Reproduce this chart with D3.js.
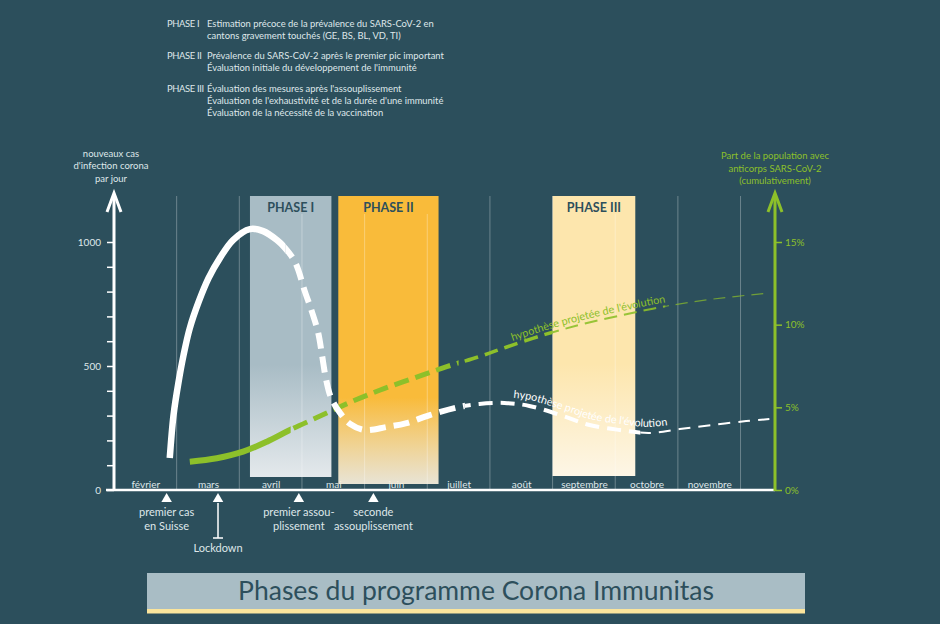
<!DOCTYPE html>
<html lang="fr">
<head>
<meta charset="utf-8">
<script src="https://cdn.jsdelivr.net/npm/d3@7"></script>
<style>
  html, body { margin: 0; padding: 0; background: #2c4f5c; }
  svg { display: block; font-family: Lato, "Open Sans", sans-serif; }
</style>
</head>
<body>
<svg id="chart" width="940" height="624"></svg>
<script>
// x axis is in months, 0 = 1er février
const months = ['février', 'mars', 'avril', 'mai', 'juin', 'juillet', 'août', 'septembre', 'octobre', 'novembre'];
const monthEnd = 10.55;

// nouveaux cas par jour (axe gauche)
const casesMonth = [0.89, 0.95, 1.03, 1.11, 1.21, 1.35, 1.51, 1.69, 1.90, 2.17, 2.38, 2.60, 2.73,
                    2.89, 3.05, 3.16, 3.26, 3.32, 3.38, 3.46, 3.61, 3.77, 4.00, 4.35,
                    4.67, 5.04, 5.52, 5.83, 6.23, 6.63, 7.22, 7.59, 8.07, 8.55, 9.03, 9.55, 10.09, 10.46];
const casesValue = [129, 302, 435, 544, 653, 758, 855, 935, 1008, 1052, 1044, 1008, 976,
                    919, 798, 718, 633, 544, 452, 375, 310, 266, 242, 254,
                    270, 302, 335, 347, 351, 339, 294, 262, 242, 230, 246, 262, 278, 286];

// part de la population avec anticorps, % cumulé (axe droit)
const antiMonth = [1.21, 1.64, 2.06, 2.44, 2.81, 3.29, 3.76, 4.25, 4.78, 5.31, 5.84,
                   6.27, 6.91, 7.55, 8.35, 8.83, 9.56, 10.47];
const antiPct = [1.71, 1.92, 2.32, 2.92, 3.63, 4.47, 5.29, 6.05, 6.76, 7.46, 8.08,
                 8.65, 9.44, 10.1, 10.77, 11.13, 11.55, 11.92];

const leftTicks = [0, 100, 200, 300, 400, 500, 600, 700, 800, 900, 1000];
const leftLabels = [0, 500, 1000];
const rightTicks = [0, 5, 10, 15];

// phases
const phaseNames = ['PHASE I', 'PHASE II', 'PHASE III'];
const phaseStart = [2.17, 3.58, 7.0];
const phaseEnd = [3.47, 5.18, 8.32];
const phaseText = [
  ['Estimation précoce de la prévalence du SARS-CoV-2 en', 'cantons gravement touchés (GE, BS, BL, VD, TI)'],
  ['Prévalence du SARS-CoV-2 après le premier pic important', 'Évaluation initiale du développement de l\'immunité'],
  ['Évaluation des mesures après l\'assouplissement', 'Évaluation de l\'exhaustivité et de la durée d\'une immunité', 'Évaluation de la nécessité de la vaccination']
];

// événements sous l'axe
const eventNames = [['premier cas', 'en Suisse'], ['Lockdown'], ['premier assou-', 'plissement'], ['seconde', 'assouplissement']];
const eventMonth = [0.84, 1.66, 2.95, 4.14];
const eventStem = [false, true, false, false];

const projLabel = 'hypothèse projetée de l\'évolution';
const title = 'Phases du programme Corona Immunitas';

const bg = '#2c4f5c', green = '#8dc02a', light = '#dfe7ea', dark = '#2d4f5c';
const phaseStyle = [
  {top: '#a8bcc5', bottom: '#e4e9ec', fade: 0.6, bottomY: 477, op: 1},
  {top: '#f9bb3a', bottom: '#fdf4e2', fade: 0.7, bottomY: 484, op: 0.9},
  {top: '#fde6ad', bottom: '#fdf6e6', fade: 0.6, bottomY: 476, op: 1}
];

const svg = d3.select('#chart');
const x = d3.scaleLinear().domain([0, monthEnd]).range([114, 775]);
const yCases = d3.scaleLinear().domain([0, 1000]).range([490, 242]);
const yAnti = d3.scaleLinear().domain([0, 15]).range([490, 242]);
const plotTop = 196, base = 490;

svg.append('rect').attr('width', 940).attr('height', 624).attr('fill', bg);

// top text block
const info = svg.append('g').attr('font-size', 9.4).attr('fill', light);
const blockY = [27, 59, 92];
phaseNames.forEach((p, i) => {
  info.append('text').attr('x', 167).attr('y', blockY[i]).attr('letter-spacing', -0.35).text(p);
  phaseText[i].forEach((line, j) => {
    info.append('text').attr('x', 207).attr('y', blockY[i] + j * 12).text(line);
  });
});

// month labels (under the phase boxes)
svg.append('g')
    .attr('transform', `translate(0, ${base})`)
    .call(d3.axisTop(x)
        .tickValues(months.map((m, i) => i + 0.5))
        .tickSize(0).tickPadding(2)
        .tickFormat((d, i) => months[i]))
    .call(g => g.select('.domain').remove())
    .call(g => g.selectAll('text').attr('fill', light).attr('font-size', 10).attr('font-family', 'Lato'));

// phase boxes
const defs = svg.append('defs');
phaseStyle.forEach((s, i) => {
  const grad = defs.append('linearGradient').attr('id', 'ph' + i)
      .attr('x1', 0).attr('y1', 0).attr('x2', 0).attr('y2', 1);
  grad.append('stop').attr('offset', 0).attr('stop-color', s.top);
  grad.append('stop').attr('offset', s.fade).attr('stop-color', s.top);
  grad.append('stop').attr('offset', 1).attr('stop-color', s.bottom).attr('stop-opacity', s.op);
});

svg.append('g').selectAll('rect')
    .data(phaseNames)
    .join('rect')
      .attr('x', (d, i) => x(phaseStart[i]))
      .attr('y', plotTop)
      .attr('width', (d, i) => x(phaseEnd[i]) - x(phaseStart[i]))
      .attr('height', (d, i) => phaseStyle[i].bottomY - plotTop)
      .attr('fill', (d, i) => `url(#ph${i})`);

// month gridlines
const inPhase = m => phaseStart.some((s, i) => m > s && m < phaseEnd[i]);
svg.append('g').selectAll('line')
    .data(d3.range(1, months.length + 1))
    .join('line')
      .attr('x1', d => x(d)).attr('x2', d => x(d))
      .attr('y1', d => inPhase(d) ? plotTop + 18 : plotTop)
      .attr('y2', base)
      .attr('stroke', '#fff').attr('stroke-opacity', 0.3).attr('stroke-width', 1);

svg.append('g').selectAll('text')
    .data(phaseNames)
    .join('text')
      .attr('x', (d, i) => (x(phaseStart[i]) + x(phaseEnd[i])) / 2)
      .attr('y', plotTop + 16)
      .attr('text-anchor', 'middle')
      .attr('font-size', 12.5).attr('font-weight', 700)
      .attr('fill', dark)
      .text(d => d);

// curves, each drawn once and clipped per style segment
const casesData = casesMonth.map((m, i) => [m, casesValue[i]]);
const antiData = antiMonth.map((m, i) => [m, antiPct[i]]);
const casesLine = d3.line().x(d => x(d[0])).y(d => yCases(d[1])).curve(d3.curveCatmullRom.alpha(0.5));
const antiLine = d3.line().x(d => x(d[0])).y(d => yAnti(d[1])).curve(d3.curveCatmullRom.alpha(0.5));

function drawSegments(lineGen, data, color, segs, id) {
  segs.forEach((s, k) => {
    defs.append('clipPath').attr('id', id + k)
      .append('rect')
        .attr('x', x(s.from)).attr('y', 0)
        .attr('width', x(s.to) - x(s.from)).attr('height', 624);
    svg.append('path')
        .datum(data)
        .attr('clip-path', `url(#${id}${k})`)
        .attr('d', lineGen)
        .attr('fill', 'none')
        .attr('stroke', color)
        .attr('stroke-width', s.w)
        .attr('stroke-opacity', s.op || 1)
        .attr('stroke-dasharray', s.dash || null);
  });
}

drawSegments(antiLine, antiData, green, [
  {from: 1.0, to: 2.82, w: 6},
  {from: 2.82, to: 5.5, w: 5, dash: '15,7'},
  {from: 5.5, to: 7.0, w: 3.5, dash: '14,7'},
  {from: 7.0, to: 8.8, w: 2, dash: '13,7', op: 0.9},
  {from: 8.8, to: 11, w: 1.2, dash: '12,7', op: 0.7}
], 'ga');

drawSegments(casesLine, casesData, '#fff', [
  {from: 0.5, to: 2.74, w: 6.5},
  {from: 2.74, to: 5.6, w: 6, dash: '16,8'},
  {from: 5.6, to: 8.4, w: 4, dash: '14,8'},
  {from: 8.4, to: 11, w: 2, dash: '12,8'}
], 'wc');

// projection labels following the curves
const greenPath = d3.line().x(d => x(d[0])).y(d => yAnti(d[1]) - 4).curve(d3.curveCatmullRom.alpha(0.5));
const whitePath = d3.line().x(d => x(d[0])).y(d => yCases(d[1]) - 6).curve(d3.curveCatmullRom.alpha(0.5));
defs.append('path').attr('id', 'gLabel').attr('d', greenPath(antiData.filter(d => d[0] > 6 && d[0] < 9.2)));
defs.append('path').attr('id', 'wLabel').attr('d', whitePath(casesData.filter(d => d[0] > 6 && d[0] < 9.2)));

svg.append('text').attr('font-size', 10.8).attr('fill', green)
  .append('textPath').attr('href', '#gLabel').attr('startOffset', 6).text(projLabel);
svg.append('text').attr('font-size', 10.8).attr('fill', '#fff')
  .append('textPath').attr('href', '#wLabel').attr('startOffset', 9).text(projLabel);

// baseline
svg.append('line')
    .attr('x1', 106).attr('x2', x(monthEnd))
    .attr('y1', base).attr('y2', base)
    .attr('stroke', '#fff').attr('stroke-width', 2.5);

// left axis
svg.append('g')
    .attr('transform', `translate(${x(0)}, 0)`)
    .call(d3.axisLeft(yCases)
        .tickValues(leftTicks).tickSize(7).tickPadding(6)
        .tickFormat(d => leftLabels.includes(d) ? d : ''))
    .call(g => g.select('.domain').remove())
    .call(g => g.selectAll('line').attr('stroke', '#fff').attr('stroke-width', 1.5))
    .call(g => g.selectAll('text').attr('fill', light).attr('font-size', 10).attr('font-family', 'Lato'));

const arrowTop = 193;
svg.append('line').attr('x1', x(0)).attr('x2', x(0)).attr('y1', base).attr('y2', arrowTop + 1)
    .attr('stroke', '#fff').attr('stroke-width', 3);
svg.append('path')
    .attr('d', `M${x(0) - 7},${arrowTop + 19}L${x(0)},${arrowTop}L${x(0) + 7},${arrowTop + 19}`)
    .attr('fill', 'none').attr('stroke', '#fff').attr('stroke-width', 3);

// right axis
const xr = x(monthEnd);
svg.append('g')
    .attr('transform', `translate(${xr}, 0)`)
    .call(d3.axisRight(yAnti)
        .tickValues(rightTicks).tickSize(7).tickPadding(3)
        .tickFormat(d => d + '%'))
    .call(g => g.select('.domain').remove())
    .call(g => g.selectAll('line').attr('stroke', green).attr('stroke-width', 1.5))
    .call(g => g.selectAll('text').attr('fill', green).attr('font-size', 10).attr('font-family', 'Lato'));

svg.append('line').attr('x1', xr).attr('x2', xr).attr('y1', base + 1).attr('y2', arrowTop + 1)
    .attr('stroke', green).attr('stroke-width', 3);
svg.append('path')
    .attr('d', `M${xr - 7},${arrowTop + 19}L${xr},${arrowTop}L${xr + 7},${arrowTop + 19}`)
    .attr('fill', 'none').attr('stroke', green).attr('stroke-width', 3);

// axis titles
const leftTitle = ['nouveaux cas', 'd\'infection corona', 'par jour'];
const rightTitle = ['Part de la population avec', 'anticorps SARS-CoV-2', '(cumulativement)'];
svg.append('g').attr('font-size', 9.5).attr('fill', light).attr('text-anchor', 'middle')
  .selectAll('text').data(leftTitle).join('text')
    .attr('x', 111).attr('y', (d, i) => 157 + i * 12.3).text(d => d);
svg.append('g').attr('font-size', 9.5).attr('fill', green).attr('text-anchor', 'middle')
  .selectAll('text').data(rightTitle).join('text')
    .attr('x', xr).attr('y', (d, i) => 159 + i * 12.5).text(d => d);

// events below the axis
const ev = svg.append('g').selectAll('g')
    .data(eventNames)
    .join('g')
      .attr('transform', (d, i) => `translate(${x(eventMonth[i])}, 0)`);
ev.append('path')
    .attr('transform', 'translate(0, 499)')
    .attr('d', d3.symbol(d3.symbolTriangle, 48))
    .attr('fill', '#fff');
ev.filter((d, i) => eventStem[i]).append('path')
    .attr('d', 'M0,503V538M-5,538H5')
    .attr('stroke', '#fff').attr('stroke-width', 1.5).attr('fill', 'none');
ev.each(function(d, i) {
  const g = d3.select(this);
  const y0 = eventStem[i] ? 552 : 516;
  d.forEach((line, j) => {
    g.append('text').attr('y', y0 + j * 14).attr('text-anchor', 'middle')
      .attr('font-size', 11).attr('fill', light).text(line);
  });
});

// title banner
svg.append('rect').attr('x', 147).attr('y', 573).attr('width', 658).attr('height', 37).attr('fill', '#a9bdc5');
svg.append('rect').attr('x', 147).attr('y', 609).attr('width', 658).attr('height', 4.5).attr('fill', '#fbe59c');
svg.append('text').attr('x', 476).attr('y', 600).attr('text-anchor', 'middle')
    .attr('font-size', 26.5).attr('fill', dark).text(title);
</script>
</body>
</html>
